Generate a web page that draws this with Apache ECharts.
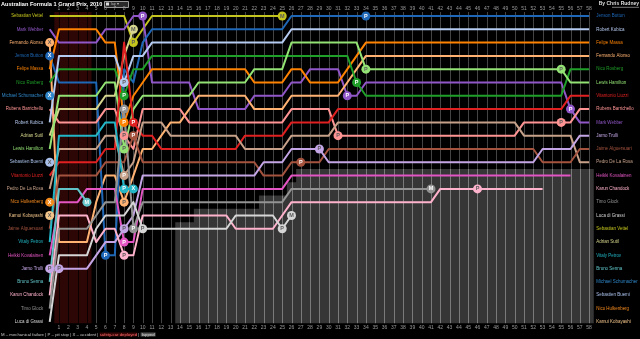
<!DOCTYPE html>
<html><head><meta charset="utf-8">
<script src="https://cdn.jsdelivr.net/npm/echarts@6/dist/echarts.min.js"></script>
<style>html,body{margin:0;padding:0;background:#000;}#c{width:640px;height:339px;}</style>
</head><body><div id="c"></div>
<script>
// ---------- DATA ----------
const gridOrder = ['Sebastian Vettel','Mark Webber','Fernando Alonso','Jenson Button','Felipe Massa','Nico Rosberg','Michael Schumacher','Rubens Barrichello','Robert Kubica','Adrian Sutil','Lewis Hamilton','Sebastien Buemi','Vitantonio Liuzzi','Pedro De La Rosa','Nico Hulkenberg','Kamui Kobayashi','Jaime Alguersuari','Vitaly Petrov','Heikki Kovalainen','Jarno Trulli','Bruno Senna','Karun Chandock','Timo Glock','Luca di Grassi'];
const finishOrder = ['Jenson Button','Robert Kubica','Felipe Massa','Fernando Alonso','Nico Rosberg','Lewis Hamilton','Vitantonio Liuzzi','Rubens Barrichello','Mark Webber','Jarno Trulli','Jaime Alguersuari','Pedro De La Rosa','Heikki Kovalainen','Karun Chandock','Timo Glock','Luca di Grassi','Sebastian Vettel','Adrian Sutil','Vitaly Petrov','Bruno Senna','Michael Schumacher','Sebastien Buemi','Nico Hulkenberg','Kamui Kobayashi'];
const driverColors = ['#c4c41e','#9157c9','#ffb272','#1f68b8','#ff8300','#1f9e2a','#2f86c8','#ff9494','#b6cbf2','#d6d68e','#93e274','#a9c1ea','#e12121','#c7a189','#f38a1e','#f2c48a','#a4533f','#22b6c6','#e255c2','#c4a6e6','#62c4c8','#ffb2cb','#939393','#d6d6d6'];
const lapLabels = [1,2,3,4,5,6,7,8,9,10,11,12,13,14,15,16,17,18,19,20,21,22,23,24,25,26,27,28,29,30,31,32,33,34,35,36,37,38,39,40,41,42,43,44,45,46,47,48,49,50,51,52,53,54,55,56,57,58];
const rowLabels = [1,2,3,4,5,6,7,8,9,10,11,12,13,14,15,16,17,18,19,20,21,22,23,24];

// position by lap (index = lap, lap 0 = grid)
const posVettel = [1,1,1,1,1,1,1,1,1,3,2,1,1,1,1,1,1,1,1,1,1,1,1,1,1,1];
const posWebber = [2,3,3,3,3,3,2,2,2,1,1,6,6,6,6,6,8,8,8,8,8,8,7,7,7,7,6,6,5,5,5,5,7,7,6,6,6,6,6,6,6,6,6,6,6,6,6,6,6,6,6,6,6,6,6,6,8,9,9];
const posAlonso = [3,18,18,18,18,15,13,13,15,13,11,11,10,9,9,8,7,7,7,7,7,7,8,8,8,8,7,7,7,7,7,7,6,5,4,4,4,4,4,4,4,4,4,4,4,4,4,4,4,4,4,4,4,4,4,4,4,4,4];
const posButton = [4,6,6,6,6,6,19,19,5,6,3,2,2,2,2,2,2,2,2,2,2,2,2,2,2,2,1,1,1,1,1,1,1,1,1,1,1,1,1,1,1,1,1,1,1,1,1,1,1,1,1,1,1,1,1,1,1,1,1];
const posMassa = [5,2,2,2,2,2,3,3,9,7,6,5,5,5,5,5,5,5,5,5,5,5,6,6,6,6,5,5,6,6,6,6,5,4,3,3,3,3,3,3,3,3,3,3,3,3,3,3,3,3,3,3,3,3,3,3,3,3,3];
const posRosberg = [6,5,5,5,5,5,5,5,7,5,5,4,4,4,4,4,4,4,4,4,4,4,4,4,4,4,4,4,4,4,4,4,4,6,7,7,7,7,7,7,7,7,7,7,7,7,7,7,7,7,7,7,7,7,7,7,5,5,5];
const posSchumacher = [7];
const posBarrichello = [8,9,9,9,9,9,8,8,10,11,8,8,8,8,8,9,9,9,9,9,9,9,9,9,9,9,8,8,8,8,8,10,10,10,10,10,10,10,10,10,10,10,10,10,10,10,10,10,10,10,10,9,9,9,9,9,9,8,8];
const posKubica = [9,4,4,4,4,4,4,4,6,4,4,3,3,3,3,3,3,3,3,3,3,3,3,3,3,3,2,2,2,2,2,2,2,2,2,2,2,2,2,2,2,2,2,2,2,2,2,2,2,2,2,2,2,2,2,2,2,2,2];
const posSutil = [10,8,8,8,8,8,7,7,4,2];
const posHamilton = [11,7,7,7,7,7,6,6,11,8,7,7,7,7,7,7,6,6,6,6,6,6,5,5,5,5,3,3,3,3,3,3,3,3,5,5,5,5,5,5,5,5,5,5,5,5,5,5,5,5,5,5,5,5,5,5,6,6,6];
const posBuemi = [12];
const posLiuzzi = [13,12,12,12,12,12,11,11,3,9,10,10,11,11,11,11,11,11,11,11,11,10,10,10,10,10,9,9,9,9,9,8,8,8,8,8,8,8,8,8,8,8,8,8,8,8,8,8,8,8,8,8,8,8,8,8,7,7,7];
const posDeLaRosa = [14,11,11,11,11,11,10,10,13,12,9,9,9,10,10,10,10,10,10,10,10,11,11,11,11,11,10,10,10,10,10,9,9,9,9,9,9,9,9,9,9,9,9,9,9,9,9,9,9,9,9,10,10,10,10,10,10,12,12];
const posHulkenberg = [15];
const posKobayashi = [16];
const posAlguersuari = [17,13,13,13,13,13,12,12,12,10,12,12,12,12,12,12,12,12,12,12,12,12,12,13,13,13,12,12,12,12,11,11,11,11,11,11,11,11,11,11,11,11,11,11,11,11,11,11,11,11,11,11,11,12,12,12,12,11,11];
const posPetrov = [18,10,10,10,10,10,9,9,14,14];
const posKovalainen = [19,15,15,15,14,14,14,14,18,18,14,14,14,14,14,14,14,14,14,14,14,14,14,14,14,14,13,13,13,13,13,13,13,13,13,13,13,13,13,13,13,13,13,13,13,13,13,13,13,13,13,13,13,13,13,13,13];
const posTrulli = [20,20,20,20,20,19,18,18,17,16,13,13,13,13,13,13,13,13,13,13,13,13,13,12,12,12,11,11,11,11,12,12,12,12,12,12,12,12,12,12,12,12,12,12,12,12,12,12,12,12,12,12,12,11,11,11,11,10,10];
const posSenna = [21,14,14,14,15];
const posChandhok = [22,16,16,16,16,18,17,17,19,19,16,16,16,16,16,16,16,16,16,16,17,17,17,17,17,16,15,15,15,15,15,15,15,15,15,15,15,15,15,15,15,15,14,14,14,14,14,14,14,14,14,14,14,14];
const posGlock = [23,17,17,17,17,16,15,15,8,17,15,15,15,15,15,15,15,15,15,15,15,15,15,15,15,15,14,14,14,14,14,14,14,14,14,14,14,14,14,14,14,14];
const posDiGrassi = [24,19,19,19,19,17,16,16,16,15,17,17,17,17,17,17,17,17,17,17,16,16,16,16,16,17,16];

// [driver, lap, letter]
const incidents = [
 ['Fernando Alonso',0,'X'],['Jenson Button',0,'X'],['Michael Schumacher',0,'X'],['Sebastien Buemi',0,'X'],
 ['Nico Hulkenberg',0,'X'],['Kamui Kobayashi',0,'X'],['Jarno Trulli',0,'P'],['Jarno Trulli',1,'P'],
 ['Bruno Senna',4,'M'],['Jenson Button',6,'P'],
 ['Robert Kubica',8,'P'],['Nico Rosberg',8,'P'],['Timo Glock',8,'P'],['Felipe Massa',8,'P'],['Rubens Barrichello',8,'P'],
 ['Lewis Hamilton',8,'P'],['Pedro De La Rosa',8,'P'],['Vitaly Petrov',8,'P'],['Fernando Alonso',8,'P'],['Jarno Trulli',8,'P'],
 ['Heikki Kovalainen',8,'P'],['Karun Chandock',8,'P'],
 ['Adrian Sutil',9,'M'],['Sebastian Vettel',9,'P'],['Vitantonio Liuzzi',9,'P'],['Jaime Alguersuari',9,'P'],['Vitaly Petrov',9,'X'],['Timo Glock',9,'P'],
 ['Mark Webber',10,'P'],['Luca di Grassi',10,'P'],
 ['Sebastian Vettel',25,'M'],['Luca di Grassi',25,'P'],['Luca di Grassi',26,'M'],['Jaime Alguersuari',27,'P'],['Jarno Trulli',29,'P'],
 ['Rubens Barrichello',31,'P'],['Mark Webber',32,'P'],['Nico Rosberg',33,'P'],['Jenson Button',34,'P'],['Lewis Hamilton',34,'P'],
 ['Timo Glock',41,'M'],['Karun Chandock',46,'P'],['Lewis Hamilton',55,'P'],['Rubens Barrichello',55,'P'],['Mark Webber',56,'P']
];
const safetyCarLaps = [0.5, 4.5];
// [from lap, first lapped row]
const lappedSteps = [[13.5,17],[15.5,16],[22.5,15],[25.5,14],[26.5,13]];

// ---------- BUILD ----------
const positions = {
 'Sebastian Vettel':posVettel,'Mark Webber':posWebber,'Fernando Alonso':posAlonso,'Jenson Button':posButton,
 'Felipe Massa':posMassa,'Nico Rosberg':posRosberg,'Michael Schumacher':posSchumacher,'Rubens Barrichello':posBarrichello,
 'Robert Kubica':posKubica,'Adrian Sutil':posSutil,'Lewis Hamilton':posHamilton,'Sebastien Buemi':posBuemi,
 'Vitantonio Liuzzi':posLiuzzi,'Pedro De La Rosa':posDeLaRosa,'Nico Hulkenberg':posHulkenberg,'Kamui Kobayashi':posKobayashi,
 'Jaime Alguersuari':posAlguersuari,'Vitaly Petrov':posPetrov,'Heikki Kovalainen':posKovalainen,'Jarno Trulli':posTrulli,
 'Bruno Senna':posSenna,'Karun Chandock':posChandhok,'Timo Glock':posGlock,'Luca di Grassi':posDiGrassi
};
const colorOf = {};
gridOrder.forEach((n,i)=>colorOf[n]=driverColors[i]);

const FONT = 'Liberation Sans';
const YMIN = 0.7, YMAX = 24.1, XMAX = 58.5;
const LABEL_SIZE = 4.45;

function lum(hex){const v=parseInt(hex.slice(1),16);return (0.299*(v>>16)+0.587*((v>>8)&255)+0.114*(v&255));}

const richLeft = {}, richRight = {};
gridOrder.forEach((n,i)=>{richLeft['l'+i]={color:driverColors[i],fontSize:LABEL_SIZE,fontFamily:FONT};});
finishOrder.forEach((n,i)=>{richRight['r'+i]={color:colorOf[n],fontSize:LABEL_SIZE,fontFamily:FONT};});

function renderBg(params, api){
  const ch = [];
  const top = api.coord([0,YMIN])[1], bot = api.coord([0,YMAX])[1];
  const s0 = api.coord([safetyCarLaps[0],YMIN])[0], s1 = api.coord([safetyCarLaps[1],YMIN])[0];
  ch.push({type:'rect',shape:{x:s0,y:top,width:s1-s0,height:bot-top},style:{fill:'#2d0606'}});
  const pts = [api.coord([lappedSteps[0][0],YMAX])];
  lappedSteps.forEach((s,i)=>{
    const nx = i<lappedSteps.length-1 ? lappedSteps[i+1][0] : XMAX;
    pts.push(api.coord([s[0],s[1]-0.5]));
    pts.push(api.coord([nx,s[1]-0.5]));
  });
  pts.push(api.coord([XMAX,YMAX]));
  ch.push({type:'polygon',shape:{points:pts},style:{fill:'#363636'}});
  lapLabels.forEach(L=>{
    const x = Math.round(api.coord([L,0])[0])+0.5;
    if (L>safetyCarLaps[0] && L<safetyCarLaps[1]) {
      ch.push({type:'line',shape:{x1:x,y1:top,x2:x,y2:bot},style:{stroke:'#0c0000',lineWidth:1}});
      return;
    }
    let b = null;
    lappedSteps.forEach(s=>{ if (s[0]<=L) b = s[1]; });
    const yb = b===null ? bot : api.coord([0,b-0.5])[1];
    ch.push({type:'line',shape:{x1:x,y1:top,x2:x,y2:yb},style:{stroke:'#444444',lineWidth:1}});
    if (b!==null) ch.push({type:'line',shape:{x1:x,y1:yb,x2:x,y2:bot},style:{stroke:'#7a7a7a',lineWidth:1}});
  });
  return {type:'group',children:ch};
}

const series = [{type:'custom',renderItem:renderBg,data:[0],z:1,silent:true,clip:false}];
gridOrder.forEach((n,i)=>{
  series.push({type:'line',name:n,data:positions[n].map((p,lap)=>[lap,p]),symbol:'none',showSymbol:false,
    lineStyle:{width:2,color:driverColors[i],join:'round'},z:3,silent:true});
});
series.push({type:'scatter',z:5,symbolSize:9,silent:true,
  data:incidents.map(m=>{
    const c = colorOf[m[0]];
    return {value:[m[1],positions[m[0]][m[1]]],itemStyle:{color:c,opacity:1},
      label:{show:true,formatter:m[2],position:'inside',fontSize:5.5,fontWeight:'bold',fontFamily:FONT,
        color: lum(c)>170 ? '#5a5a5a' : '#ffffff'}};
  })});

const xAxisBase = {type:'value',min:0,max:XMAX,axisLine:{show:false},axisTick:{show:false},splitLine:{show:false},
  axisLabel:{customValues:lapLabels,fontSize:5,color:'#9a9a9a',fontFamily:FONT}};

const chart = echarts.init(document.getElementById('c'),null,{renderer:'canvas'});
chart.setOption({
  backgroundColor:'#000',
  animation:false,
  grid:{left:49.7,top:12,width:544.05,height:311.2,containLabel:false,outerBoundsMode:'none'},
  xAxis:[
    Object.assign({},xAxisBase,{position:'bottom',axisLabel:Object.assign({},xAxisBase.axisLabel,{margin:2})}),
    Object.assign({},xAxisBase,{position:'top',axisLabel:Object.assign({},xAxisBase.axisLabel,{margin:0.5})})
  ],
  yAxis:[
    {type:'value',min:YMIN,max:YMAX,inverse:true,position:'left',axisLine:{show:false},axisTick:{show:false},splitLine:{show:false},
     axisLabel:{customValues:rowLabels,margin:6.5,formatter:v=>'{l'+(v-1)+'|'+gridOrder[v-1]+'}',rich:richLeft}},
    {type:'value',min:YMIN,max:YMAX,inverse:true,position:'right',axisLine:{show:false},axisTick:{show:false},splitLine:{show:false},
     axisLabel:{customValues:rowLabels,margin:2.5,formatter:v=>'{r'+(v-1)+'|'+finishOrder[v-1]+'}',rich:richRight}}
  ],
  series: series,
  graphic:[
    {type:'text',left:1,top:1,style:{text:'Australian Formula 1 Grand Prix, 2010',fill:'#ffffff',font:'bold 5.6px "Liberation Sans"'}},
    {type:'rect',left:104,top:1,shape:{width:24,height:6},style:{fill:'#2a2a2a',stroke:'#9a9a9a',lineWidth:1}},
    {type:'rect',left:106,top:2.5,shape:{width:3,height:3},style:{fill:'#dddddd'}},
    {type:'text',left:111,top:1.8,style:{text:'lap ▾',fill:'#bbbbbb',font:'3.5px "Liberation Sans"'}},
    {type:'text',right:1,top:1.5,style:{text:'By Chris Rudney',fill:'#dddddd',font:'bold 5px "Liberation Sans"'}},
    {type:'line',shape:{x1:612,y1:7.3,x2:639,y2:7.3},style:{stroke:'#cccccc',lineWidth:0.6}},
    {type:'text',left:1,top:332.5,style:{
      text:'{a|M – mechanical failure | P – pit stop | X – accident | }{b|safety-car deployed}{a| | }{c|lapped}',
      rich:{a:{fill:'#c8c8c8',font:'4.3px "Liberation Sans"'},
            b:{fill:'#ff6a6a',font:'4.3px "Liberation Sans"',backgroundColor:'#3a0808'},
            c:{fill:'#dddddd',font:'4.3px "Liberation Sans"',backgroundColor:'#555555',padding:[0,1]}}}}
  ]
});
</script></body></html>
